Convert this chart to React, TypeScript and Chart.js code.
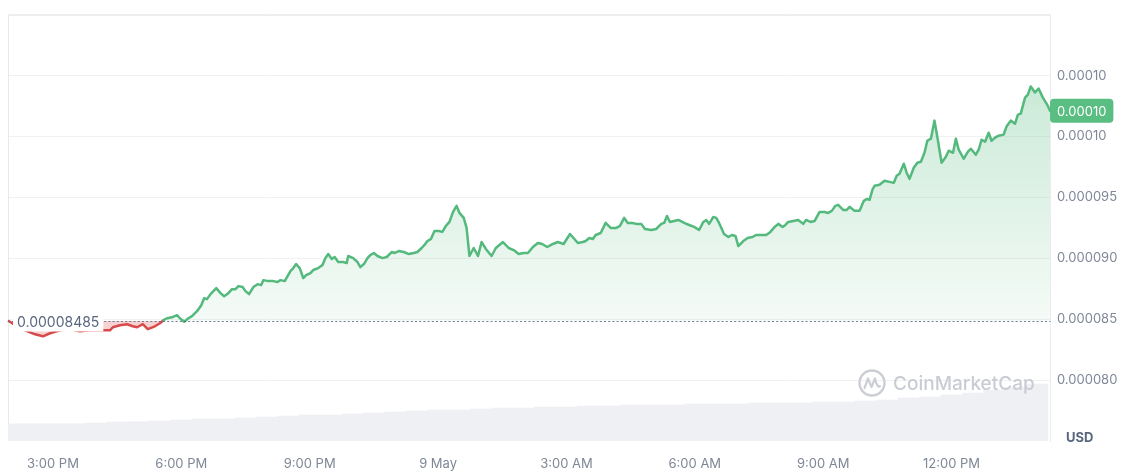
import React, { useEffect, useRef } from "react";
import { Chart, registerables } from "chart.js";

Chart.register(...registerables);

// Time of each price sample, in minutes since 8 May 00:00
const priceTimes = [
  838, 847, 861, 875, 886, 896, 910, 924, 938, 952,
  966, 972, 980, 984, 994, 1004, 1012, 1018, 1026, 1033,
  1043, 1050, 1055, 1060, 1067, 1074, 1078, 1084, 1090, 1095,
  1102, 1108, 1112, 1116, 1121, 1129, 1135, 1140, 1146, 1151,
  1156, 1160, 1166, 1170, 1175, 1181, 1187, 1192, 1195, 1202,
  1209, 1215, 1219, 1225, 1229, 1233, 1237, 1241, 1246, 1251,
  1255, 1261, 1265, 1272, 1278, 1282, 1286, 1291, 1295, 1300,
  1307, 1312, 1314, 1321, 1327, 1331, 1336, 1341, 1345, 1350,
  1355, 1362, 1368, 1375, 1379, 1385, 1392, 1399, 1406, 1411,
  1417, 1421, 1425, 1430, 1435, 1441, 1446, 1451, 1456, 1461,
  1466, 1470, 1476, 1480, 1484, 1490, 1496, 1501, 1507, 1515,
  1521, 1531, 1539, 1546, 1553, 1560, 1566, 1573, 1580, 1586,
  1593, 1601, 1608, 1616, 1625, 1636, 1643, 1647, 1652, 1657,
  1661, 1668, 1675, 1682, 1690, 1695, 1701, 1706, 1712, 1718,
  1725, 1730, 1739, 1746, 1753, 1757, 1761, 1765, 1771, 1777,
  1785, 1792, 1799, 1806, 1812, 1816, 1820, 1826, 1830, 1834,
  1841, 1847, 1852, 1857, 1861, 1868, 1874, 1881, 1886, 1893,
  1900, 1906, 1912, 1917, 1923, 1927, 1931, 1938, 1945, 1952,
  1956, 1962, 1968, 1975, 1982, 1987, 1992, 1997, 2001, 2008,
  2013, 2017, 2024, 2031, 2037, 2041, 2045, 2049, 2052, 2059,
  2066, 2073, 2079, 2083, 2087, 2093, 2097, 2101, 2107, 2112,
  2117, 2122, 2126, 2131, 2136, 2140, 2146, 2152, 2156, 2162,
  2166, 2170, 2177, 2183, 2187, 2194, 2198, 2202, 2207, 2212,
  2216, 2221, 2226, 2233, 2237, 2243, 2249, 2253, 2257, 2263,
  2267, 2271, 2277, 2282, 2288, 2294, 2298,
];

// Price in millionths of a US dollar (value × 1e-6 USD)
const priceValues = [
  84.85, 84.51, 84.09, 83.76, 83.6, 83.85, 84.09, 84.18, 84.01, 84.09,
  84.09, 84.09, 84.09, 84.34, 84.51, 84.59, 84.42, 84.34, 84.59, 84.18,
  84.42, 84.67, 84.92, 85.08, 85.16, 85.33, 85.08, 84.8, 85.08, 85.25,
  85.66, 86.15, 86.73, 86.65, 87.06, 87.55, 87.14, 86.89, 87.14, 87.47,
  87.47, 87.72, 87.64, 87.31, 87.06, 87.64, 87.88, 87.8, 88.21, 88.13,
  88.13, 88.05, 88.21, 88.13, 88.54, 88.95, 89.2, 89.53, 89.2, 88.38,
  88.62, 88.79, 89.04, 89.2, 89.45, 90.02, 90.35, 89.94, 90.11, 89.7,
  89.7, 89.61, 90.19, 90.02, 89.7, 89.28, 89.53, 90.02, 90.27, 90.44,
  90.19, 90.02, 90.11, 90.52, 90.44, 90.6, 90.52, 90.35, 90.44, 90.52,
  90.85, 91.1, 91.42, 91.59, 92.25, 92.25, 92.17, 92.66, 92.99, 93.81,
  94.31, 93.73, 93.32, 92.5, 90.19, 90.85, 90.19, 91.34, 90.77, 90.19,
  90.85, 91.34, 90.85, 90.68, 90.35, 90.44, 90.44, 90.93, 91.26, 91.18,
  90.93, 91.18, 91.34, 91.18, 92.0, 91.26, 91.34, 91.42, 91.67, 91.59,
  91.92, 92.08, 92.91, 92.5, 92.5, 92.66, 93.32, 92.91, 92.91, 92.83,
  92.83, 92.41, 92.33, 92.41, 92.83, 92.91, 93.48, 92.99, 93.07, 93.15,
  92.91, 92.74, 92.58, 92.33, 92.99, 93.15, 92.83, 93.4, 93.32, 92.91,
  92.0, 91.75, 91.92, 91.84, 91.01, 91.42, 91.67, 91.75, 91.92, 91.92,
  91.92, 92.17, 92.58, 92.83, 92.58, 92.74, 92.99, 93.07, 93.15, 92.83,
  93.15, 92.99, 93.07, 93.81, 93.81, 93.73, 93.9, 94.31, 94.39, 93.98,
  93.98, 94.23, 93.9, 93.9, 94.72, 94.88, 94.8, 95.63, 95.96, 96.04,
  96.37, 96.28, 96.2, 96.78, 96.94, 97.77, 97.03, 96.53, 97.44, 97.85,
  97.93, 98.67, 99.66, 99.83, 101.31, 99.99, 97.85, 98.34, 98.84, 98.67,
  99.83, 98.92, 98.18, 98.76, 99.0, 98.51, 98.92, 99.74, 99.58, 100.32,
  99.66, 99.91, 100.07, 100.16, 100.82, 101.31, 101.06, 101.8, 101.89, 103.2,
  103.45, 104.11, 103.62, 103.95, 103.2, 102.63, 102.13,
];

const openPrice = 84.85;
const openPriceLabel = "0.00008485";
const currentPriceLabel = "0.00010";

// Volume bars (30-minute buckets), minutes since 8 May 00:00
const volumeTimes = [
  840, 870, 900, 930, 960, 990, 1020, 1050, 1080, 1110,
  1140, 1170, 1200, 1230, 1260, 1290, 1320, 1350, 1380, 1410,
  1440, 1470, 1500, 1530, 1560, 1590, 1620, 1650, 1680, 1710,
  1740, 1770, 1800, 1830, 1860, 1890, 1920, 1950, 1980, 2010,
  2040, 2070, 2100, 2130, 2160, 2190, 2220, 2250, 2280,
];
const volumeValues = [
  1.8, 1.8, 1.8, 1.8, 1.9, 2.0, 2.05, 2.11, 2.21, 2.32,
  2.32, 2.42, 2.53, 2.63, 2.74, 2.74, 2.85, 2.95, 3.06, 3.16,
  3.27, 3.27, 3.37, 3.48, 3.48, 3.58, 3.58, 3.69, 3.69, 3.79,
  3.79, 3.79, 3.9, 3.9, 3.9, 4.0, 4.0, 4.0, 4.11, 4.11,
  4.22, 4.32, 4.53, 4.64, 4.85, 5.06, 5.37, 5.69, 6.01,
];

const xTickValues = [900, 1080, 1260, 1440, 1620, 1800, 1980, 2160];
const xTickLabels = ["3:00 PM", "6:00 PM", "9:00 PM", "9 May", "3:00 AM", "6:00 AM", "9:00 AM", "12:00 PM"];
const yTickValues = [75, 80, 85, 90, 95, 100, 105, 110];
const yTickLabels = ["", "0.000080", "0.000085", "0.000090", "0.000095", "0.00010", "0.00010", ""];
const unitLabel = "USD";
const watermarkText = "CoinMarketCap";

const GREEN = "#53b97c";
const BADGE_GREEN = "#5abd81";
const RED = "#d94b4b";
const FONT = "Inter, 'Noto Sans', sans-serif";
const TICK_COLOR = "#7f8797";

const overlayPlugin = {
  id: "overlay",
  beforeDatasetsDraw(chart: any) {
    const { ctx, chartArea: a } = chart;
    ctx.save();
    // frame (left + top)
    ctx.strokeStyle = "#e9e9ec";
    ctx.lineWidth = 1;
    ctx.beginPath();
    ctx.moveTo(a.left + 0.5, a.bottom);
    ctx.lineTo(a.left + 0.5, a.top + 0.5);
    ctx.lineTo(a.right, a.top + 0.5);
    ctx.stroke();
    ctx.restore();
  },
  afterDatasetsDraw(chart: any) {
    const { ctx, chartArea: a, scales } = chart;
    const y = scales.y;
    ctx.save();

    // watermark (over the volume bars)
    const cx = a.right - 178;
    const cy = a.bottom - 58;
    ctx.strokeStyle = "#cbced5";
    ctx.lineWidth = 2.4;
    ctx.beginPath();
    ctx.arc(cx, cy, 12.5, 0, Math.PI * 2);
    ctx.stroke();
    ctx.lineWidth = 2.2;
    ctx.lineJoin = "round";
    ctx.lineCap = "round";
    ctx.beginPath();
    ctx.moveTo(cx - 7.5, cy + 5);
    ctx.lineTo(cx - 4, cy - 4.5);
    ctx.lineTo(cx - 0.5, cy + 4);
    ctx.lineTo(cx + 3, cy - 4.5);
    ctx.quadraticCurveTo(cx + 5.5, cy + 6, cx + 8, cy + 3);
    ctx.stroke();
    ctx.fillStyle = "#c9ccd3";
    ctx.font = "500 19px " + FONT;
    ctx.textBaseline = "middle";
    ctx.textAlign = "left";
    ctx.fillText(watermarkText, cx + 21, cy + 1);

    // dotted open-price line
    const yb = Math.round(y.getPixelForValue(openPrice)) + 0.5;
    ctx.strokeStyle = "rgba(88,102,126,0.85)";
    ctx.lineWidth = 1;
    ctx.setLineDash([1.2, 3]);
    ctx.beginPath();
    ctx.moveTo(a.left, yb);
    ctx.lineTo(a.right, yb);
    ctx.stroke();
    ctx.setLineDash([]);

    // open-price label
    ctx.font = "14px " + FONT;
    const tw = ctx.measureText(openPriceLabel).width;
    ctx.fillStyle = "#ffffff";
    ctx.fillRect(a.left + 5, yb - 10, tw + 8, 20);
    ctx.fillStyle = "#58667e";
    ctx.textBaseline = "middle";
    ctx.textAlign = "left";
    ctx.fillText(openPriceLabel, a.left + 9, yb + 1);

    // current-price badge
    const last = priceValues[priceValues.length - 1];
    const yl = y.getPixelForValue(last);
    ctx.font = "13px " + FONT;
    const bw = ctx.measureText(currentPriceLabel).width + 14;
    const bh = 24;
    ctx.fillStyle = BADGE_GREEN;
    ctx.beginPath();
    (ctx as any).roundRect(a.right, yl - bh / 2, bw, bh, 4);
    ctx.fill();
    ctx.fillStyle = "#ffffff";
    ctx.fillText(currentPriceLabel, a.right + 7, yl + 1);

    // unit label
    ctx.font = "bold 13px " + FONT;
    ctx.fillStyle = "#58667e";
    ctx.fillText(unitLabel, a.right + 16, a.bottom - 3);
    ctx.restore();
  },
};

export default function App() {
  const canvasRef = useRef<HTMLCanvasElement | null>(null);

  useEffect(() => {
    document.body.style.margin = "0";
    const canvas = canvasRef.current;
    if (!canvas) return;

    const priceData = priceTimes.map((t, i) => ({ x: t, y: priceValues[i] }));
    const volumeData = volumeTimes.map((t, i) => ({ x: t, y: volumeValues[i] }));

    const chart = new Chart(canvas, {
      type: "line",
      data: {
        datasets: [
          {
            type: "line",
            data: priceData,
            yAxisID: "y",
            order: 1,
            borderColor: GREEN,
            borderWidth: 2.5,
            borderJoinStyle: "round",
            borderCapStyle: "round",
            pointRadius: 0,
            tension: 0,
            segment: {
              borderColor: (c: any) => ((c.p0.parsed.y + c.p1.parsed.y) / 2 < openPrice ? RED : GREEN),
            },
            backgroundColor: (c: any) => {
              const ch = c.chart;
              if (!ch.chartArea || !ch.scales.y) return "rgba(83,185,124,0.15)";
              const ys = ch.scales.y;
              const top = ys.getPixelForValue(Math.max(...priceValues));
              const bot = ys.getPixelForValue(openPrice);
              const g = ch.ctx.createLinearGradient(0, top, 0, bot);
              g.addColorStop(0, "rgba(83,185,124,0.30)");
              g.addColorStop(1, "rgba(83,185,124,0.06)");
              return g;
            },
            fill: { target: { value: openPrice }, below: "rgba(220,77,77,0.25)" },
          } as any,
          {
            type: "bar",
            data: volumeData,
            yAxisID: "yVol",
            order: 2,
            backgroundColor: "#eef0f4",
            borderWidth: 0,
            barPercentage: 1,
            categoryPercentage: 1,
          } as any,
        ],
      },
      options: {
        responsive: false,
        animation: false,
        devicePixelRatio: 1,
        layout: { padding: { left: 8, top: 14, right: 0, bottom: 0 } },
        plugins: { legend: { display: false }, tooltip: { enabled: false } },
        scales: {
          x: {
            type: "linear",
            min: 837,
            max: 2298,
            offset: false,
            grid: { display: false, drawTicks: false, offset: false },
            border: { display: false },
            afterBuildTicks: (s: any) => {
              s.ticks = xTickValues.map((v) => ({ value: v }));
            },
            afterFit: (s: any) => {
              s.height = 34;
            },
            ticks: {
              autoSkip: false,
              maxRotation: 0,
              padding: 15,
              color: TICK_COLOR,
              font: { family: FONT, size: 13 },
              callback: (_v: any, i: number) => xTickLabels[i],
            },
          },
          y: {
            type: "linear",
            position: "right",
            min: 75,
            max: 110,
            grid: {
              drawTicks: false,
              color: (c: any) => (c.tick && c.tick.value === 75 ? "rgba(0,0,0,0)" : "#f1f1f3"),
            },
            border: { display: true, color: "#ececef" },
            afterBuildTicks: (s: any) => {
              s.ticks = yTickValues.map((v) => ({ value: v }));
            },
            afterFit: (s: any) => {
              s.width = 90;
            },
            ticks: {
              padding: 7,
              color: TICK_COLOR,
              font: { family: FONT, size: 13 },
              callback: (_v: any, i: number) => yTickLabels[i],
            },
          },
          yVol: {
            type: "linear",
            display: false,
            min: 0,
            max: 45,
          },
        },
      } as any,
      plugins: [overlayPlugin],
    });

    return () => chart.destroy();
  }, []);

  return <canvas ref={canvasRef} width={1140} height={475} style={{ display: "block" }} />;
}
